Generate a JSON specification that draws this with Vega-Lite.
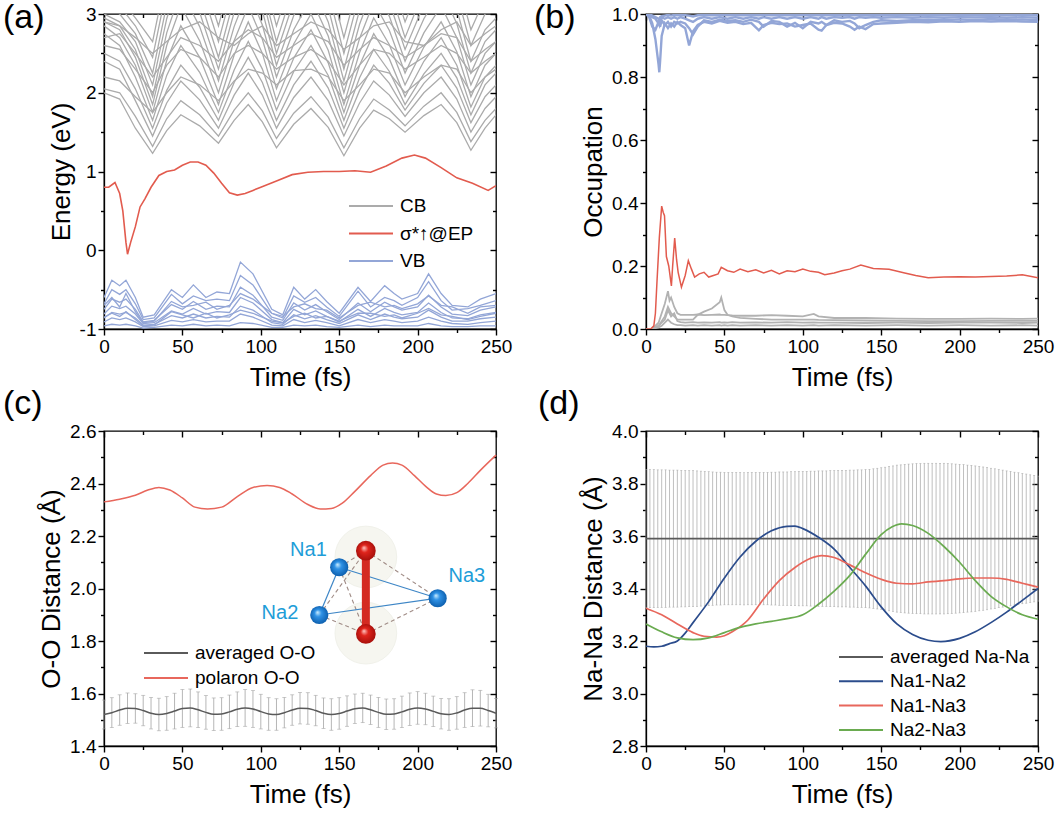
{
  "$schema": "https://vega.github.io/schema/vega-lite/v6.json",
  "description": "Energy, occupation and distance traces (a)-(d) over time.",
  "background": "white",
  "padding": {"left": 2, "top": 0, "right": 5, "bottom": 5},
  "columns": 2,
  "spacing": {"row": 102, "column": 150},
  "bounds": "flush",
  "resolve": {
    "scale": {"x": "independent", "y": "independent", "color": "independent"},
    "legend": {"color": "independent"},
    "axis": {"x": "independent", "y": "independent"}
  },
  "datasets": {
    "a_cb": [
      {"t":0,"c1":2.0,"c2":2.05,"c3":2.4,"c4":2.5,"c5":2.75,"c6":2.85,"c7":2.9,"c8":2.95,"c9":3.0,"c10":3.1,"c11":3.2,"c12":3.3,"c13":2.2,"c14":2.6,"c15":2.9,"c16":2.7},
      {"t":10,"c1":1.92,"c2":2.0,"c3":2.3,"c4":2.4,"c5":2.6,"c6":2.7,"c7":2.8,"c8":2.85,"c9":2.9,"c10":3.0,"c11":3.1,"c12":3.2,"c13":2.15,"c14":2.55,"c15":2.85,"c16":2.75},
      {"t":20,"c1":1.55,"c2":1.7,"c3":1.9,"c4":2.05,"c5":2.2,"c6":2.35,"c7":2.45,"c8":2.55,"c9":2.65,"c10":2.75,"c11":2.85,"c12":2.95,"c13":1.95,"c14":2.3,"c15":2.7,"c16":2.5},
      {"t":31,"c1":1.23,"c2":1.32,"c3":1.45,"c4":1.55,"c5":1.65,"c6":1.75,"c7":1.85,"c8":1.95,"c9":2.1,"c10":2.25,"c11":2.45,"c12":2.65,"c13":1.75,"c14":2.0,"c15":2.5,"c16":2.2},
      {"t":40,"c1":1.52,"c2":1.67,"c3":1.87,"c4":2.03,"c5":2.22,"c6":2.41,"c7":2.6,"c8":2.76,"c9":2.94,"c10":3.12,"c11":3.32,"c12":3.52,"c13":2.0,"c14":2.35,"c15":2.65,"c16":2.45},
      {"t":49,"c1":1.72,"c2":1.9,"c3":2.15,"c4":2.35,"c5":2.6,"c6":2.85,"c7":3.1,"c8":3.3,"c9":3.5,"c10":3.7,"c11":3.9,"c12":4.1,"c13":2.2,"c14":2.55,"c15":2.8,"c16":2.7},
      {"t":61,"c1":1.58,"c2":1.72,"c3":1.91,"c4":2.07,"c5":2.26,"c6":2.45,"c7":2.66,"c8":2.84,"c9":3.02,"c10":3.2,"c11":3.4,"c12":3.6,"c13":2.1,"c14":2.45,"c15":2.9,"c16":2.6},
      {"t":73,"c1":1.36,"c2":1.45,"c3":1.55,"c4":1.65,"c5":1.75,"c6":1.85,"c7":2.0,"c8":2.15,"c9":2.3,"c10":2.45,"c11":2.65,"c12":2.85,"c13":1.9,"c14":2.2,"c15":2.7,"c16":2.4},
      {"t":83,"c1":1.65,"c2":1.78,"c3":1.97,"c4":2.13,"c5":2.29,"c6":2.48,"c7":2.66,"c8":2.84,"c9":3.02,"c10":3.2,"c11":3.4,"c12":3.6,"c13":2.15,"c14":2.5,"c15":2.6,"c16":2.65},
      {"t":92,"c1":1.85,"c2":2.0,"c3":2.25,"c4":2.45,"c5":2.65,"c6":2.9,"c7":3.1,"c8":3.3,"c9":3.5,"c10":3.7,"c11":3.9,"c12":4.1,"c13":2.3,"c14":2.6,"c15":2.75,"c16":2.8},
      {"t":101,"c1":1.63,"c2":1.77,"c3":1.97,"c4":2.13,"c5":2.3,"c6":2.5,"c7":2.68,"c8":2.86,"c9":3.04,"c10":3.22,"c11":3.34,"c12":3.54,"c13":2.25,"c14":2.5,"c15":2.85,"c16":2.7},
      {"t":110,"c1":1.3,"c2":1.42,"c3":1.55,"c4":1.65,"c5":1.78,"c6":1.9,"c7":2.05,"c8":2.2,"c9":2.35,"c10":2.5,"c11":2.65,"c12":2.85,"c13":2.1,"c14":2.3,"c15":2.6,"c16":2.45},
      {"t":121,"c1":1.6,"c2":1.74,"c3":1.94,"c4":2.1,"c5":2.27,"c6":2.44,"c7":2.62,"c8":2.8,"c9":2.98,"c10":3.16,"c11":3.34,"c12":3.54,"c13":2.28,"c14":2.45,"c15":2.75,"c16":2.6},
      {"t":132,"c1":1.8,"c2":1.95,"c3":2.2,"c4":2.4,"c5":2.6,"c6":2.8,"c7":3.0,"c8":3.2,"c9":3.4,"c10":3.6,"c11":3.8,"c12":4.0,"c13":2.3,"c14":2.55,"c15":2.9,"c16":2.75},
      {"t":143,"c1":1.56,"c2":1.69,"c3":1.9,"c4":2.06,"c5":2.22,"c6":2.38,"c7":2.54,"c8":2.72,"c9":2.9,"c10":3.08,"c11":3.28,"c12":3.48,"c13":2.2,"c14":2.4,"c15":2.8,"c16":2.65},
      {"t":153,"c1":1.2,"c2":1.3,"c3":1.45,"c4":1.55,"c5":1.65,"c6":1.75,"c7":1.85,"c8":2.0,"c9":2.15,"c10":2.3,"c11":2.5,"c12":2.7,"c13":1.9,"c14":2.1,"c15":2.55,"c16":2.35},
      {"t":163,"c1":1.55,"c2":1.67,"c3":1.87,"c4":2.03,"c5":2.19,"c6":2.35,"c7":2.51,"c8":2.69,"c9":2.87,"c10":3.05,"c11":3.25,"c12":3.45,"c13":2.1,"c14":2.35,"c15":2.7,"c16":2.55},
      {"t":172,"c1":1.78,"c2":1.92,"c3":2.15,"c4":2.35,"c5":2.55,"c6":2.75,"c7":2.95,"c8":3.15,"c9":3.35,"c10":3.55,"c11":3.75,"c12":3.95,"c13":2.3,"c14":2.55,"c15":2.85,"c16":2.7},
      {"t":182,"c1":1.67,"c2":1.78,"c3":1.97,"c4":2.12,"c5":2.27,"c6":2.43,"c7":2.61,"c8":2.79,"c9":2.97,"c10":3.15,"c11":3.33,"c12":3.53,"c13":2.25,"c14":2.5,"c15":2.9,"c16":2.6},
      {"t":192,"c1":1.5,"c2":1.58,"c3":1.7,"c4":1.78,"c5":1.85,"c6":1.95,"c7":2.1,"c8":2.25,"c9":2.4,"c10":2.55,"c11":2.7,"c12":2.9,"c13":2.0,"c14":2.3,"c15":2.65,"c16":2.45},
      {"t":204,"c1":1.71,"c2":1.83,"c3":2.0,"c4":2.12,"c5":2.24,"c6":2.4,"c7":2.58,"c8":2.76,"c9":2.94,"c10":3.12,"c11":3.3,"c12":3.5,"c13":2.2,"c14":2.45,"c15":2.6,"c16":2.6},
      {"t":215,"c1":1.85,"c2":2.0,"c3":2.2,"c4":2.35,"c5":2.5,"c6":2.7,"c7":2.9,"c8":3.1,"c9":3.3,"c10":3.5,"c11":3.7,"c12":3.9,"c13":2.35,"c14":2.6,"c15":2.8,"c16":2.75},
      {"t":225,"c1":1.62,"c2":1.75,"c3":1.92,"c4":2.06,"c5":2.19,"c6":2.35,"c7":2.52,"c8":2.7,"c9":2.88,"c10":3.06,"c11":3.26,"c12":3.46,"c13":2.3,"c14":2.5,"c15":2.9,"c16":2.7},
      {"t":234,"c1":1.27,"c2":1.38,"c3":1.5,"c4":1.62,"c5":1.72,"c6":1.82,"c7":1.95,"c8":2.1,"c9":2.25,"c10":2.4,"c11":2.6,"c12":2.8,"c13":2.0,"c14":2.25,"c15":2.6,"c16":2.4},
      {"t":243,"c1":1.55,"c2":1.65,"c3":1.8,"c4":1.95,"c5":2.1,"c6":2.2,"c7":2.35,"c8":2.5,"c9":2.65,"c10":2.8,"c11":3.0,"c12":3.2,"c13":2.2,"c14":2.4,"c15":2.75,"c16":2.55},
      {"t":250,"c1":1.72,"c2":1.8,"c3":1.95,"c4":2.1,"c5":2.25,"c6":2.35,"c7":2.5,"c8":2.65,"c9":2.8,"c10":2.95,"c11":3.1,"c12":3.3,"c13":2.3,"c14":2.5,"c15":2.85,"c16":2.65}
    ],
    "a_vb": [
      {"t":0,"v1":-0.6,"v2":-0.68,"v3":-0.75,"v4":-0.81,"v5":-0.86,"v6":-0.91,"v7":-0.96,"v8":-0.7,"v9":-0.85},
      {"t":5,"v1":-0.38,"v2":-0.5,"v3":-0.62,"v4":-0.71,"v5":-0.79,"v6":-0.86,"v7":-0.94,"v8":-0.6,"v9":-0.8},
      {"t":10,"v1":-0.45,"v2":-0.56,"v3":-0.66,"v4":-0.74,"v5":-0.81,"v6":-0.88,"v7":-0.95,"v8":-0.72,"v9":-0.84},
      {"t":14,"v1":-0.38,"v2":-0.5,"v3":-0.62,"v4":-0.71,"v5":-0.79,"v6":-0.86,"v7":-0.94,"v8":-0.55,"v9":-0.78},
      {"t":20,"v1":-0.6,"v2":-0.68,"v3":-0.75,"v4":-0.81,"v5":-0.86,"v6":-0.91,"v7":-0.96,"v8":-0.78,"v9":-0.88},
      {"t":25,"v1":-0.85,"v2":-0.88,"v3":-0.91,"v4":-0.93,"v5":-0.95,"v6":-0.97,"v7":-0.99,"v8":-0.92,"v9":-0.96},
      {"t":32,"v1":-0.82,"v2":-0.86,"v3":-0.89,"v4":-0.92,"v5":-0.94,"v6":-0.96,"v7":-0.98,"v8":-0.9,"v9":-0.95},
      {"t":43,"v1":-0.5,"v2":-0.56,"v3":-0.69,"v4":-0.77,"v5":-0.83,"v6":-0.89,"v7":-0.95,"v8":-0.65,"v9":-0.78},
      {"t":50,"v1":-0.6,"v2":-0.68,"v3":-0.75,"v4":-0.81,"v5":-0.86,"v6":-0.91,"v7":-0.96,"v8":-0.72,"v9":-0.82},
      {"t":57,"v1":-0.44,"v2":-0.58,"v3":-0.65,"v4":-0.74,"v5":-0.81,"v6":-0.88,"v7":-0.94,"v8":-0.7,"v9":-0.86},
      {"t":65,"v1":-0.6,"v2":-0.64,"v3":-0.75,"v4":-0.81,"v5":-0.86,"v6":-0.91,"v7":-0.96,"v8":-0.66,"v9":-0.8},
      {"t":72,"v1":-0.53,"v2":-0.62,"v3":-0.71,"v4":-0.78,"v5":-0.84,"v6":-0.9,"v7":-0.95,"v8":-0.75,"v9":-0.86},
      {"t":80,"v1":-0.55,"v2":-0.64,"v3":-0.72,"v4":-0.79,"v5":-0.85,"v6":-0.9,"v7":-0.96,"v8":-0.7,"v9":-0.82},
      {"t":87,"v1":-0.15,"v2":-0.32,"v3":-0.47,"v4":-0.6,"v5":-0.71,"v6":-0.81,"v7":-0.92,"v8":-0.55,"v9":-0.76},
      {"t":95,"v1":-0.3,"v2":-0.44,"v3":-0.57,"v4":-0.67,"v5":-0.76,"v6":-0.85,"v7":-0.93,"v8":-0.62,"v9":-0.8},
      {"t":107,"v1":-0.75,"v2":-0.8,"v3":-0.85,"v4":-0.88,"v5":-0.92,"v6":-0.95,"v7":-0.98,"v8":-0.8,"v9":-0.9},
      {"t":114,"v1":-0.82,"v2":-0.86,"v3":-0.89,"v4":-0.92,"v5":-0.94,"v6":-0.96,"v7":-0.98,"v8":-0.84,"v9":-0.92},
      {"t":121,"v1":-0.47,"v2":-0.58,"v3":-0.67,"v4":-0.75,"v5":-0.82,"v6":-0.88,"v7":-0.95,"v8":-0.72,"v9":-0.84},
      {"t":128,"v1":-0.62,"v2":-0.66,"v3":-0.76,"v4":-0.82,"v5":-0.87,"v6":-0.92,"v7":-0.96,"v8":-0.68,"v9":-0.8},
      {"t":135,"v1":-0.5,"v2":-0.6,"v3":-0.69,"v4":-0.77,"v5":-0.83,"v6":-0.89,"v7":-0.95,"v8":-0.74,"v9":-0.86},
      {"t":142,"v1":-0.65,"v2":-0.72,"v3":-0.78,"v4":-0.84,"v5":-0.88,"v6":-0.92,"v7":-0.97,"v8":-0.76,"v9":-0.84},
      {"t":150,"v1":-0.8,"v2":-0.84,"v3":-0.88,"v4":-0.91,"v5":-0.93,"v6":-0.96,"v7":-0.98,"v8":-0.86,"v9":-0.9},
      {"t":162,"v1":-0.47,"v2":-0.52,"v3":-0.67,"v4":-0.75,"v5":-0.82,"v6":-0.88,"v7":-0.95,"v8":-0.7,"v9":-0.8},
      {"t":170,"v1":-0.65,"v2":-0.72,"v3":-0.78,"v4":-0.84,"v5":-0.88,"v6":-0.92,"v7":-0.97,"v8":-0.66,"v9":-0.8},
      {"t":179,"v1":-0.45,"v2":-0.6,"v3":-0.66,"v4":-0.74,"v5":-0.81,"v6":-0.88,"v7":-0.95,"v8":-0.72,"v9":-0.84},
      {"t":185,"v1":-0.55,"v2":-0.64,"v3":-0.72,"v4":-0.79,"v5":-0.85,"v6":-0.9,"v7":-0.96,"v8":-0.7,"v9":-0.82},
      {"t":190,"v1":-0.62,"v2":-0.7,"v3":-0.76,"v4":-0.82,"v5":-0.87,"v6":-0.92,"v7":-0.96,"v8":-0.74,"v9":-0.86},
      {"t":200,"v1":-0.55,"v2":-0.6,"v3":-0.72,"v4":-0.79,"v5":-0.85,"v6":-0.9,"v7":-0.96,"v8":-0.68,"v9":-0.8},
      {"t":207,"v1":-0.3,"v2":-0.4,"v3":-0.57,"v4":-0.67,"v5":-0.76,"v6":-0.85,"v7":-0.93,"v8":-0.58,"v9":-0.74},
      {"t":215,"v1":-0.55,"v2":-0.64,"v3":-0.72,"v4":-0.79,"v5":-0.85,"v6":-0.9,"v7":-0.96,"v8":-0.7,"v9":-0.82},
      {"t":222,"v1":-0.7,"v2":-0.76,"v3":-0.81,"v4":-0.86,"v5":-0.9,"v6":-0.93,"v7":-0.97,"v8":-0.72,"v9":-0.84},
      {"t":232,"v1":-0.72,"v2":-0.74,"v3":-0.83,"v4":-0.87,"v5":-0.9,"v6":-0.94,"v7":-0.97,"v8":-0.8,"v9":-0.88},
      {"t":240,"v1":-0.62,"v2":-0.7,"v3":-0.76,"v4":-0.82,"v5":-0.87,"v6":-0.92,"v7":-0.96,"v8":-0.72,"v9":-0.84},
      {"t":250,"v1":-0.55,"v2":-0.64,"v3":-0.72,"v4":-0.79,"v5":-0.85,"v6":-0.9,"v7":-0.96,"v8":-0.7,"v9":-0.8}
    ],
    "a_red": [
      {"t":0,"v":0.8},{"t":3,"v":0.8},{"t":7,"v":0.86},{"t":10,"v":0.72},{"t":12,"v":0.5},{"t":14,"v":0.1},
      {"t":15,"v":-0.05},{"t":17,"v":0.1},{"t":20,"v":0.3},{"t":23,"v":0.55},{"t":26,"v":0.65},{"t":30,"v":0.8},
      {"t":35,"v":0.95},{"t":40,"v":1.0},{"t":45,"v":1.02},{"t":50,"v":1.08},{"t":55,"v":1.12},{"t":60,"v":1.12},
      {"t":65,"v":1.08},{"t":70,"v":0.98},{"t":75,"v":0.85},{"t":80,"v":0.73},{"t":85,"v":0.7},{"t":90,"v":0.72},
      {"t":95,"v":0.76},{"t":100,"v":0.8},{"t":110,"v":0.88},{"t":120,"v":0.96},{"t":130,"v":0.99},{"t":140,"v":1.0},
      {"t":150,"v":1.0},{"t":160,"v":1.01},{"t":170,"v":0.99},{"t":180,"v":1.07},{"t":190,"v":1.17},{"t":198,"v":1.21},
      {"t":205,"v":1.17},{"t":215,"v":1.05},{"t":225,"v":0.92},{"t":235,"v":0.85},{"t":245,"v":0.76},{"t":250,"v":0.82}
    ],
    "b_blue": [
      {"t":0,"b1":1.0,"b2":1.0,"b3":1.0,"b4":1.0},
      {"t":2,"b1":0.995,"b2":0.99,"b3":0.998,"b4":1.0},
      {"t":4,"b1":0.97,"b2":0.96,"b3":0.99,"b4":0.995},
      {"t":6,"b1":0.92,"b2":0.95,"b3":0.985,"b4":0.99},
      {"t":8,"b1":0.84,"b2":0.975,"b3":0.97,"b4":0.985},
      {"t":8.5,"b1":0.815,"b2":0.97,"b3":0.965,"b4":0.985},
      {"t":9,"b1":0.85,"b2":0.96,"b3":0.98,"b4":0.99},
      {"t":10,"b1":0.93,"b2":0.98,"b3":0.99,"b4":0.993},
      {"t":12,"b1":0.97,"b2":0.965,"b3":0.985,"b4":0.995},
      {"t":14,"b1":0.955,"b2":0.975,"b3":0.99,"b4":0.997},
      {"t":16,"b1":0.97,"b2":0.96,"b3":0.985,"b4":0.995},
      {"t":18,"b1":0.96,"b2":0.975,"b3":0.99,"b4":0.997},
      {"t":20,"b1":0.975,"b2":0.97,"b3":0.985,"b4":0.996},
      {"t":22,"b1":0.965,"b2":0.975,"b3":0.99,"b4":0.997},
      {"t":25,"b1":0.955,"b2":0.97,"b3":0.985,"b4":0.996},
      {"t":27.5,"b1":0.9,"b2":0.955,"b3":0.98,"b4":0.995},
      {"t":30,"b1":0.945,"b2":0.935,"b3":0.975,"b4":0.992},
      {"t":33,"b1":0.965,"b2":0.96,"b3":0.985,"b4":0.996},
      {"t":37,"b1":0.975,"b2":0.98,"b3":0.99,"b4":0.997},
      {"t":42,"b1":0.97,"b2":0.975,"b3":0.985,"b4":0.996},
      {"t":47,"b1":0.978,"b2":0.982,"b3":0.99,"b4":0.997},
      {"t":52,"b1":0.972,"b2":0.978,"b3":0.985,"b4":0.996},
      {"t":57,"b1":0.975,"b2":0.98,"b3":0.99,"b4":0.997},
      {"t":62,"b1":0.968,"b2":0.975,"b3":0.985,"b4":0.996},
      {"t":67,"b1":0.972,"b2":0.982,"b3":0.99,"b4":0.997},
      {"t":72,"b1":0.948,"b2":0.975,"b3":0.985,"b4":0.996},
      {"t":75,"b1":0.965,"b2":0.96,"b3":0.99,"b4":0.997},
      {"t":80,"b1":0.972,"b2":0.978,"b3":0.985,"b4":0.996},
      {"t":85,"b1":0.968,"b2":0.975,"b3":0.99,"b4":0.997},
      {"t":90,"b1":0.97,"b2":0.96,"b3":0.985,"b4":0.996},
      {"t":95,"b1":0.96,"b2":0.972,"b3":0.99,"b4":0.997},
      {"t":100,"b1":0.965,"b2":0.955,"b3":0.985,"b4":0.996},
      {"t":105,"b1":0.97,"b2":0.975,"b3":0.99,"b4":0.997},
      {"t":110,"b1":0.95,"b2":0.97,"b3":0.985,"b4":0.996},
      {"t":112,"b1":0.947,"b2":0.975,"b3":0.99,"b4":0.997},
      {"t":115,"b1":0.965,"b2":0.965,"b3":0.985,"b4":0.996},
      {"t":120,"b1":0.972,"b2":0.98,"b3":0.99,"b4":0.997},
      {"t":125,"b1":0.97,"b2":0.975,"b3":0.988,"b4":0.996},
      {"t":130,"b1":0.96,"b2":0.978,"b3":0.99,"b4":0.997},
      {"t":133,"b1":0.95,"b2":0.97,"b3":0.985,"b4":0.996},
      {"t":136,"b1":0.96,"b2":0.955,"b3":0.99,"b4":0.997},
      {"t":140,"b1":0.952,"b2":0.965,"b3":0.988,"b4":0.996},
      {"t":145,"b1":0.968,"b2":0.975,"b3":0.99,"b4":0.997},
      {"t":150,"b1":0.97,"b2":0.98,"b3":0.988,"b4":0.996},
      {"t":160,"b1":0.972,"b2":0.978,"b3":0.99,"b4":0.997},
      {"t":170,"b1":0.975,"b2":0.98,"b3":0.988,"b4":0.996},
      {"t":180,"b1":0.974,"b2":0.982,"b3":0.99,"b4":0.997},
      {"t":190,"b1":0.977,"b2":0.98,"b3":0.988,"b4":0.996},
      {"t":200,"b1":0.975,"b2":0.983,"b3":0.99,"b4":0.997},
      {"t":210,"b1":0.978,"b2":0.98,"b3":0.989,"b4":0.996},
      {"t":220,"b1":0.976,"b2":0.984,"b3":0.99,"b4":0.997},
      {"t":230,"b1":0.978,"b2":0.981,"b3":0.988,"b4":0.996},
      {"t":240,"b1":0.976,"b2":0.983,"b3":0.99,"b4":0.997},
      {"t":250,"b1":0.975,"b2":0.98,"b3":0.988,"b4":0.996}
    ],
    "b_gray": [
      {"t":0,"g1":0,"g2":0,"g3":0,"g4":0},
      {"t":4,"g1":0,"g2":0,"g3":0,"g4":0},
      {"t":8,"g1":0.02,"g2":0.01,"g3":0.01,"g4":0.005},
      {"t":10,"g1":0.05,"g2":0.025,"g3":0.02,"g4":0.01},
      {"t":12,"g1":0.08,"g2":0.04,"g3":0.03,"g4":0.02},
      {"t":14,"g1":0.12,"g2":0.07,"g3":0.06,"g4":0.03},
      {"t":15,"g1":0.09,"g2":0.06,"g3":0.05,"g4":0.025},
      {"t":16,"g1":0.1,"g2":0.05,"g3":0.04,"g4":0.02},
      {"t":18,"g1":0.07,"g2":0.04,"g3":0.05,"g4":0.015},
      {"t":20,"g1":0.05,"g2":0.03,"g3":0.025,"g4":0.012},
      {"t":22,"g1":0.045,"g2":0.03,"g3":0.022,"g4":0.012},
      {"t":25,"g1":0.045,"g2":0.03,"g3":0.02,"g4":0.011},
      {"t":30,"g1":0.045,"g2":0.03,"g3":0.022,"g4":0.012},
      {"t":33,"g1":0.046,"g2":0.045,"g3":0.02,"g4":0.011},
      {"t":37,"g1":0.044,"g2":0.055,"g3":0.021,"g4":0.012},
      {"t":42,"g1":0.045,"g2":0.065,"g3":0.02,"g4":0.011},
      {"t":47,"g1":0.046,"g2":0.085,"g3":0.022,"g4":0.012},
      {"t":48,"g1":0.045,"g2":0.1,"g3":0.02,"g4":0.011},
      {"t":50,"g1":0.045,"g2":0.06,"g3":0.021,"g4":0.012},
      {"t":52,"g1":0.044,"g2":0.045,"g3":0.02,"g4":0.011},
      {"t":55,"g1":0.043,"g2":0.04,"g3":0.022,"g4":0.012},
      {"t":60,"g1":0.042,"g2":0.035,"g3":0.02,"g4":0.011},
      {"t":70,"g1":0.042,"g2":0.032,"g3":0.021,"g4":0.012},
      {"t":80,"g1":0.044,"g2":0.03,"g3":0.02,"g4":0.011},
      {"t":90,"g1":0.042,"g2":0.03,"g3":0.022,"g4":0.012},
      {"t":100,"g1":0.04,"g2":0.03,"g3":0.02,"g4":0.011},
      {"t":107,"g1":0.048,"g2":0.03,"g3":0.021,"g4":0.012},
      {"t":110,"g1":0.04,"g2":0.029,"g3":0.02,"g4":0.011},
      {"t":120,"g1":0.035,"g2":0.028,"g3":0.02,"g4":0.012},
      {"t":140,"g1":0.035,"g2":0.027,"g3":0.019,"g4":0.011},
      {"t":160,"g1":0.033,"g2":0.026,"g3":0.02,"g4":0.012},
      {"t":180,"g1":0.032,"g2":0.025,"g3":0.019,"g4":0.011},
      {"t":200,"g1":0.032,"g2":0.025,"g3":0.02,"g4":0.012},
      {"t":220,"g1":0.033,"g2":0.026,"g3":0.02,"g4":0.011},
      {"t":240,"g1":0.032,"g2":0.026,"g3":0.019,"g4":0.012},
      {"t":250,"g1":0.033,"g2":0.026,"g3":0.02,"g4":0.011}
    ],
    "b_red": [
      {"t":0,"v":0},{"t":3,"v":0},{"t":5,"v":0.01},{"t":6,"v":0.05},{"t":7,"v":0.15},{"t":8.5,"v":0.29},
      {"t":10,"v":0.39},{"t":11,"v":0.37},{"t":11.8,"v":0.36},{"t":13,"v":0.23},{"t":14.5,"v":0.2},{"t":16.2,"v":0.137},
      {"t":17,"v":0.2},{"t":18.3,"v":0.289},{"t":19.5,"v":0.22},{"t":20.5,"v":0.18},{"t":22.6,"v":0.133},{"t":25,"v":0.17},
      {"t":27,"v":0.217},{"t":29,"v":0.19},{"t":31,"v":0.165},{"t":34,"v":0.175},{"t":37,"v":0.18},{"t":40,"v":0.165},
      {"t":43,"v":0.17},{"t":46,"v":0.175},{"t":48,"v":0.196},{"t":52,"v":0.185},{"t":56,"v":0.18},{"t":60,"v":0.19},
      {"t":65,"v":0.182},{"t":70,"v":0.188},{"t":75,"v":0.178},{"t":80,"v":0.186},{"t":85,"v":0.175},{"t":90,"v":0.185},
      {"t":95,"v":0.182},{"t":100,"v":0.19},{"t":105,"v":0.183},{"t":110,"v":0.18},{"t":114,"v":0.172},{"t":120,"v":0.178},
      {"t":125,"v":0.185},{"t":130,"v":0.19},{"t":137,"v":0.203},{"t":145,"v":0.192},{"t":155,"v":0.19},{"t":165,"v":0.178},
      {"t":172,"v":0.17},{"t":180,"v":0.163},{"t":190,"v":0.165},{"t":200,"v":0.166},{"t":210,"v":0.165},{"t":220,"v":0.167},
      {"t":230,"v":0.168},{"t":240,"v":0.172},{"t":250,"v":0.163}
    ],
    "c_avg": [
      {"t":0,"m":1.52,"e":0.055},{"t":5,"m":1.527,"e":0.057},{"t":10,"m":1.537,"e":0.058},{"t":15,"m":1.544,"e":0.058},
      {"t":20,"m":1.543,"e":0.056},{"t":25,"m":1.535,"e":0.058},{"t":30,"m":1.525,"e":0.06},{"t":35,"m":1.52,"e":0.062},
      {"t":40,"m":1.524,"e":0.064},{"t":45,"m":1.533,"e":0.068},{"t":50,"m":1.543,"e":0.072},{"t":55,"m":1.545,"e":0.072},
      {"t":60,"m":1.538,"e":0.068},{"t":65,"m":1.528,"e":0.064},{"t":70,"m":1.521,"e":0.062},{"t":75,"m":1.522,"e":0.062},
      {"t":80,"m":1.53,"e":0.064},{"t":85,"m":1.54,"e":0.066},{"t":90,"m":1.545,"e":0.07},{"t":95,"m":1.541,"e":0.07},
      {"t":100,"m":1.531,"e":0.066},{"t":105,"m":1.522,"e":0.062},{"t":110,"m":1.52,"e":0.06},{"t":115,"m":1.527,"e":0.058},
      {"t":120,"m":1.537,"e":0.058},{"t":125,"m":1.544,"e":0.06},{"t":130,"m":1.543,"e":0.06},{"t":135,"m":1.535,"e":0.058},
      {"t":140,"m":1.525,"e":0.058},{"t":145,"m":1.52,"e":0.06},{"t":150,"m":1.524,"e":0.06},{"t":155,"m":1.533,"e":0.058},
      {"t":160,"m":1.542,"e":0.056},{"t":165,"m":1.545,"e":0.056},{"t":170,"m":1.538,"e":0.056},{"t":175,"m":1.528,"e":0.057},
      {"t":180,"m":1.521,"e":0.058},{"t":185,"m":1.522,"e":0.058},{"t":190,"m":1.53,"e":0.06},{"t":195,"m":1.54,"e":0.062},
      {"t":200,"m":1.545,"e":0.062},{"t":205,"m":1.541,"e":0.06},{"t":210,"m":1.532,"e":0.058},{"t":215,"m":1.523,"e":0.058},
      {"t":220,"m":1.52,"e":0.06},{"t":225,"m":1.526,"e":0.062},{"t":230,"m":1.537,"e":0.066},{"t":235,"m":1.544,"e":0.07},
      {"t":240,"m":1.544,"e":0.068},{"t":245,"m":1.535,"e":0.062},{"t":250,"m":1.525,"e":0.056}
    ],
    "c_pol": [
      {"t":0,"v":2.33},{"t":10,"v":2.34},{"t":20,"v":2.355},{"t":28,"v":2.375},{"t":35,"v":2.385},{"t":42,"v":2.375},
      {"t":50,"v":2.345},{"t":58,"v":2.31},{"t":66,"v":2.303},{"t":75,"v":2.31},{"t":85,"v":2.35},{"t":95,"v":2.385},
      {"t":104,"v":2.392},{"t":112,"v":2.385},{"t":120,"v":2.36},{"t":130,"v":2.32},{"t":138,"v":2.303},{"t":145,"v":2.305},
      {"t":152,"v":2.325},{"t":160,"v":2.37},{"t":170,"v":2.43},{"t":178,"v":2.47},{"t":184,"v":2.478},{"t":190,"v":2.47},
      {"t":198,"v":2.43},{"t":205,"v":2.39},{"t":212,"v":2.36},{"t":218,"v":2.354},{"t":225,"v":2.365},{"t":232,"v":2.4},
      {"t":240,"v":2.45},{"t":250,"v":2.508}
    ],
    "c_blob": [{"t":167,"v":2.12},{"t":167,"v":1.83}],
    "c_atoms": [
      {"t":167,"v":2.144,"k":"O"},{"t":167,"v":1.827,"k":"O"},
      {"t":150,"v":2.081,"k":"Na"},{"t":137.3,"v":1.899,"k":"Na"},{"t":212.8,"v":1.963,"k":"Na"}
    ],
    "c_tri": [
      {"b":"12","t":137.3,"v":1.899},{"b":"12","t":150,"v":2.081},
      {"b":"13","t":150,"v":2.081},{"b":"13","t":212.8,"v":1.963},
      {"b":"23","t":137.3,"v":1.899},{"b":"23","t":212.8,"v":1.963}
    ],
    "c_dash": [
      {"b":"1a","t":150,"v":2.081},{"b":"1a","t":167,"v":2.144},
      {"b":"1b","t":150,"v":2.081},{"b":"1b","t":167,"v":1.827},
      {"b":"2a","t":137.3,"v":1.899},{"b":"2a","t":167,"v":2.144},
      {"b":"2b","t":137.3,"v":1.899},{"b":"2b","t":167,"v":1.827},
      {"b":"3a","t":167,"v":2.144},{"b":"3a","t":212.8,"v":1.963},
      {"b":"3b","t":167,"v":1.827},{"b":"3b","t":212.8,"v":1.963}
    ],
    "c_oo": [{"t":167,"v":2.144},{"t":167,"v":1.827}],
    "c_labels": [
      {"t":130.4,"v":2.147,"lab":"Na1"},{"t":112.2,"v":1.907,"lab":"Na2"},{"t":231.4,"v":2.049,"lab":"Na3"}
    ],
    "d_avg": [
      {"t":0,"m":3.59,"e":0.263},{"t":2.5,"m":3.59,"e":0.263},{"t":5,"m":3.59,"e":0.263},{"t":7.5,"m":3.59,"e":0.262},
      {"t":10,"m":3.59,"e":0.262},{"t":12.5,"m":3.59,"e":0.262},{"t":15,"m":3.59,"e":0.261},{"t":17.5,"m":3.59,"e":0.261},
      {"t":20,"m":3.59,"e":0.261},{"t":22.5,"m":3.59,"e":0.26},{"t":25,"m":3.59,"e":0.26},{"t":27.5,"m":3.59,"e":0.259},
      {"t":30,"m":3.59,"e":0.259},{"t":32.5,"m":3.59,"e":0.258},{"t":35,"m":3.59,"e":0.257},{"t":37.5,"m":3.59,"e":0.256},
      {"t":40,"m":3.59,"e":0.255},{"t":42.5,"m":3.59,"e":0.254},{"t":45,"m":3.59,"e":0.253},{"t":47.5,"m":3.59,"e":0.253},
      {"t":50,"m":3.59,"e":0.252},{"t":52.5,"m":3.59,"e":0.252},{"t":55,"m":3.59,"e":0.252},{"t":57.5,"m":3.59,"e":0.252},
      {"t":60,"m":3.59,"e":0.252},{"t":62.5,"m":3.59,"e":0.252},{"t":65,"m":3.59,"e":0.252},{"t":67.5,"m":3.59,"e":0.252},
      {"t":70,"m":3.59,"e":0.252},{"t":72.5,"m":3.59,"e":0.252},{"t":75,"m":3.59,"e":0.252},{"t":77.5,"m":3.59,"e":0.252},
      {"t":80,"m":3.59,"e":0.253},{"t":82.5,"m":3.59,"e":0.253},{"t":85,"m":3.59,"e":0.254},{"t":87.5,"m":3.59,"e":0.254},
      {"t":90,"m":3.59,"e":0.254},{"t":92.5,"m":3.59,"e":0.255},{"t":95,"m":3.59,"e":0.255},{"t":97.5,"m":3.59,"e":0.256},
      {"t":100,"m":3.59,"e":0.256},{"t":102.5,"m":3.59,"e":0.256},{"t":105,"m":3.59,"e":0.257},{"t":107.5,"m":3.59,"e":0.257},
      {"t":110,"m":3.59,"e":0.258},{"t":112.5,"m":3.59,"e":0.258},{"t":115,"m":3.59,"e":0.258},{"t":117.5,"m":3.59,"e":0.259},
      {"t":120,"m":3.59,"e":0.259},{"t":122.5,"m":3.59,"e":0.26},{"t":125,"m":3.59,"e":0.26},{"t":127.5,"m":3.59,"e":0.26},
      {"t":130,"m":3.59,"e":0.261},{"t":132.5,"m":3.59,"e":0.261},{"t":135,"m":3.59,"e":0.262},{"t":137.5,"m":3.59,"e":0.262},
      {"t":140,"m":3.59,"e":0.263},{"t":142.5,"m":3.59,"e":0.264},{"t":145,"m":3.59,"e":0.266},{"t":147.5,"m":3.59,"e":0.268},
      {"t":150,"m":3.59,"e":0.27},{"t":152.5,"m":3.59,"e":0.272},{"t":155,"m":3.59,"e":0.275},{"t":157.5,"m":3.59,"e":0.277},
      {"t":160,"m":3.59,"e":0.28},{"t":162.5,"m":3.59,"e":0.281},{"t":165,"m":3.59,"e":0.283},{"t":167.5,"m":3.59,"e":0.284},
      {"t":170,"m":3.59,"e":0.285},{"t":172.5,"m":3.59,"e":0.286},{"t":175,"m":3.59,"e":0.286},{"t":177.5,"m":3.59,"e":0.287},
      {"t":180,"m":3.59,"e":0.287},{"t":182.5,"m":3.59,"e":0.287},{"t":185,"m":3.59,"e":0.287},{"t":187.5,"m":3.59,"e":0.287},
      {"t":190,"m":3.59,"e":0.287},{"t":192.5,"m":3.59,"e":0.286},{"t":195,"m":3.59,"e":0.285},{"t":197.5,"m":3.59,"e":0.284},
      {"t":200,"m":3.59,"e":0.283},{"t":202.5,"m":3.59,"e":0.282},{"t":205,"m":3.59,"e":0.28},{"t":207.5,"m":3.59,"e":0.279},
      {"t":210,"m":3.59,"e":0.277},{"t":212.5,"m":3.59,"e":0.275},{"t":215,"m":3.59,"e":0.273},{"t":217.5,"m":3.59,"e":0.271},
      {"t":220,"m":3.59,"e":0.268},{"t":222.5,"m":3.59,"e":0.266},{"t":225,"m":3.59,"e":0.263},{"t":227.5,"m":3.59,"e":0.261},
      {"t":230,"m":3.59,"e":0.258},{"t":232.5,"m":3.59,"e":0.256},{"t":235,"m":3.59,"e":0.253},{"t":237.5,"m":3.59,"e":0.251},
      {"t":240,"m":3.59,"e":0.248},{"t":242.5,"m":3.59,"e":0.246},{"t":245,"m":3.59,"e":0.243},{"t":247.5,"m":3.59,"e":0.241},
      {"t":250,"m":3.59,"e":0.238}
    ],
    "d_lines": [
      {"s":"Na1-Na2","t":0,"v":3.18},{"s":"Na1-Na2","t":5,"v":3.178},{"s":"Na1-Na2","t":10,"v":3.18},{"s":"Na1-Na2","t":15,"v":3.19},
      {"s":"Na1-Na2","t":20,"v":3.2},{"s":"Na1-Na2","t":25,"v":3.23},{"s":"Na1-Na2","t":30,"v":3.27},{"s":"Na1-Na2","t":40,"v":3.35},
      {"s":"Na1-Na2","t":50,"v":3.44},{"s":"Na1-Na2","t":60,"v":3.52},{"s":"Na1-Na2","t":70,"v":3.58},{"s":"Na1-Na2","t":80,"v":3.62},
      {"s":"Na1-Na2","t":90,"v":3.637},{"s":"Na1-Na2","t":95,"v":3.638},{"s":"Na1-Na2","t":100,"v":3.628},{"s":"Na1-Na2","t":110,"v":3.595},
      {"s":"Na1-Na2","t":120,"v":3.55},{"s":"Na1-Na2","t":130,"v":3.48},{"s":"Na1-Na2","t":140,"v":3.41},{"s":"Na1-Na2","t":150,"v":3.33},
      {"s":"Na1-Na2","t":160,"v":3.265},{"s":"Na1-Na2","t":170,"v":3.225},{"s":"Na1-Na2","t":180,"v":3.203},{"s":"Na1-Na2","t":188,"v":3.198},
      {"s":"Na1-Na2","t":200,"v":3.21},{"s":"Na1-Na2","t":210,"v":3.235},{"s":"Na1-Na2","t":220,"v":3.27},{"s":"Na1-Na2","t":230,"v":3.31},
      {"s":"Na1-Na2","t":240,"v":3.355},{"s":"Na1-Na2","t":250,"v":3.4},
      {"s":"Na1-Na3","t":0,"v":3.325},{"s":"Na1-Na3","t":10,"v":3.3},{"s":"Na1-Na3","t":20,"v":3.265},{"s":"Na1-Na3","t":30,"v":3.232},
      {"s":"Na1-Na3","t":37,"v":3.218},{"s":"Na1-Na3","t":45,"v":3.215},{"s":"Na1-Na3","t":50,"v":3.22},{"s":"Na1-Na3","t":55,"v":3.235},
      {"s":"Na1-Na3","t":65,"v":3.28},{"s":"Na1-Na3","t":75,"v":3.36},{"s":"Na1-Na3","t":85,"v":3.43},{"s":"Na1-Na3","t":95,"v":3.48},
      {"s":"Na1-Na3","t":105,"v":3.515},{"s":"Na1-Na3","t":112,"v":3.525},{"s":"Na1-Na3","t":120,"v":3.518},{"s":"Na1-Na3","t":130,"v":3.49},
      {"s":"Na1-Na3","t":140,"v":3.46},{"s":"Na1-Na3","t":150,"v":3.435},{"s":"Na1-Na3","t":160,"v":3.42},{"s":"Na1-Na3","t":170,"v":3.418},
      {"s":"Na1-Na3","t":180,"v":3.425},{"s":"Na1-Na3","t":190,"v":3.43},{"s":"Na1-Na3","t":200,"v":3.437},{"s":"Na1-Na3","t":210,"v":3.44},
      {"s":"Na1-Na3","t":220,"v":3.44},{"s":"Na1-Na3","t":230,"v":3.435},{"s":"Na1-Na3","t":240,"v":3.42},{"s":"Na1-Na3","t":250,"v":3.405},
      {"s":"Na2-Na3","t":0,"v":3.265},{"s":"Na2-Na3","t":10,"v":3.235},{"s":"Na2-Na3","t":20,"v":3.212},{"s":"Na2-Na3","t":30,"v":3.205},
      {"s":"Na2-Na3","t":40,"v":3.212},{"s":"Na2-Na3","t":50,"v":3.232},{"s":"Na2-Na3","t":60,"v":3.252},{"s":"Na2-Na3","t":70,"v":3.265},
      {"s":"Na2-Na3","t":80,"v":3.275},{"s":"Na2-Na3","t":90,"v":3.285},{"s":"Na2-Na3","t":100,"v":3.3},{"s":"Na2-Na3","t":110,"v":3.34},
      {"s":"Na2-Na3","t":120,"v":3.39},{"s":"Na2-Na3","t":130,"v":3.45},{"s":"Na2-Na3","t":140,"v":3.53},{"s":"Na2-Na3","t":150,"v":3.605},
      {"s":"Na2-Na3","t":157,"v":3.635},{"s":"Na2-Na3","t":163,"v":3.646},{"s":"Na2-Na3","t":170,"v":3.64},{"s":"Na2-Na3","t":180,"v":3.61},
      {"s":"Na2-Na3","t":190,"v":3.56},{"s":"Na2-Na3","t":200,"v":3.5},{"s":"Na2-Na3","t":210,"v":3.43},{"s":"Na2-Na3","t":220,"v":3.37},
      {"s":"Na2-Na3","t":230,"v":3.33},{"s":"Na2-Na3","t":240,"v":3.3},{"s":"Na2-Na3","t":250,"v":3.283}
    ]
  },
  "concat": [
    {
      "width": 392,
      "height": 315,
      "title": {"text": "(a)", "dx": -101, "dy": 34},
      "resolve": {"axis": {"x": "independent", "y": "independent"}},
      "layer": [
        {
          "mark": {"type": "rect", "color": "#FCD9A2"},
          "encoding": {
            "x": {"datum": 0, "type": "quantitative", "scale": {"domain": [0, 250]},
              "axis": {"orient": "top", "title": null, "labels": false, "domain": false, "values": [25,75,125,175,225], "tickSize": 3.5, "offset": -3.5}},
            "x2": {"datum": 20},
            "y": {"datum": -1, "type": "quantitative", "scale": {"domain": [-1, 3]},
              "axis": {"orient": "right", "title": null, "labels": false, "domain": false, "values": [-0.5,0.5,1.5,2.5], "tickSize": 3.5, "offset": -3.5}},
            "y2": {"datum": 3}
          }
        },
        {
          "data": {"name": "a_cb"},
          "transform": [{"fold": ["c1","c2","c3","c4","c5","c6","c7","c8","c9","c10","c11","c12","c13","c14","c15","c16"], "as": ["s", "v"]}],
          "mark": {"type": "line", "clip": true, "strokeWidth": 1.3},
          "encoding": {
            "x": {"field": "t", "type": "quantitative", "scale": {"domain": [0, 250]},
              "axis": {"orient": "bottom", "title": "Time (fs)", "values": [0,50,100,150,200,250], "tickSize": 6}},
            "y": {"field": "v", "type": "quantitative", "scale": {"domain": [-1, 3]},
              "axis": {"orient": "left", "title": "Energy (eV)", "values": [-1,0,1,2,3], "labelExpr": "'' + datum.value", "tickSize": 6}},
            "detail": {"field": "s"},
            "color": {"datum": "CB", "type": "nominal",
              "scale": {"domain": ["CB", "σ*↑@EP", "VB"], "range": ["#ABABAB", "#E25B4E", "#93A6D7"]},
              "legend": {"orient": "none", "legendX": 256, "legendY": 181, "title": null, "symbolType": "M-2.2,0H2.2",
                "symbolSize": 400, "symbolStrokeWidth": 2, "labelOffset": 18, "rowPadding": 6.5, "padding": 0}}
          }
        },
        {
          "data": {"name": "a_vb"},
          "transform": [{"fold": ["v1","v2","v3","v4","v5","v6","v7","v8","v9"], "as": ["s", "v"]}],
          "mark": {"type": "line", "clip": true, "strokeWidth": 1.3},
          "encoding": {
            "x": {"field": "t", "type": "quantitative", "scale": {"domain": [0, 250]},
              "axis": {"orient": "bottom", "title": null, "labels": false, "domain": false, "values": [25,75,125,175,225], "tickSize": 3.5}},
            "y": {"field": "v", "type": "quantitative", "scale": {"domain": [-1, 3]},
              "axis": {"orient": "left", "title": null, "labels": false, "domain": false, "values": [-0.5,0.5,1.5,2.5], "tickSize": 3.5}},
            "detail": {"field": "s"},
            "color": {"datum": "VB", "type": "nominal"}
          }
        },
        {
          "data": {"name": "a_red"},
          "mark": {"type": "line", "clip": true, "strokeWidth": 1.6},
          "encoding": {
            "x": {"field": "t", "type": "quantitative", "scale": {"domain": [0, 250]},
              "axis": {"orient": "top", "title": null, "labels": false, "domain": false, "values": [0,50,100,150,200,250], "tickSize": 6, "offset": -6}},
            "y": {"field": "v", "type": "quantitative", "scale": {"domain": [-1, 3]},
              "axis": {"orient": "right", "title": null, "labels": false, "domain": false, "values": [-1,0,1,2,3], "tickSize": 6, "offset": -6}},
            "color": {"datum": "σ*↑@EP", "type": "nominal"}
          }
        }
      ]
    },
    {
      "width": 392,
      "height": 315,
      "title": {"text": "(b)", "dx": -112, "dy": 34},
      "resolve": {"axis": {"x": "independent", "y": "independent"}},
      "layer": [
        {
          "mark": {"type": "rect", "color": "#FCD9A2"},
          "encoding": {
            "x": {"datum": 0, "type": "quantitative", "scale": {"domain": [0, 250]},
              "axis": {"orient": "top", "title": null, "labels": false, "domain": false, "values": [25,75,125,175,225], "tickSize": 3.5, "offset": -3.5}},
            "x2": {"datum": 20},
            "y": {"datum": 0, "type": "quantitative", "scale": {"domain": [0, 1]},
              "axis": {"orient": "right", "title": null, "labels": false, "domain": false, "values": [0.1,0.3,0.5,0.7,0.9], "tickSize": 3.5, "offset": -3.5}},
            "y2": {"datum": 1}
          }
        },
        {
          "data": {"name": "b_gray"},
          "transform": [{"fold": ["g1","g2","g3","g4"], "as": ["s", "v"]}],
          "mark": {"type": "line", "clip": true, "strokeWidth": 1.8, "color": "#B2B2B2"},
          "encoding": {
            "x": {"field": "t", "type": "quantitative", "scale": {"domain": [0, 250]},
              "axis": {"orient": "bottom", "title": "Time (fs)", "values": [0,50,100,150,200,250], "tickSize": 6}},
            "y": {"field": "v", "type": "quantitative", "scale": {"domain": [0, 1]},
              "axis": {"orient": "left", "title": "Occupation", "values": [0,0.2,0.4,0.6,0.8,1], "format": ".1f", "tickSize": 6}},
            "detail": {"field": "s"}
          }
        },
        {
          "data": {"name": "b_blue"},
          "transform": [{"fold": ["b1","b2","b3","b4"], "as": ["s", "v"]}],
          "mark": {"type": "line", "clip": true, "strokeWidth": 2.4, "color": "#93A6D7"},
          "encoding": {
            "x": {"field": "t", "type": "quantitative", "scale": {"domain": [0, 250]},
              "axis": {"orient": "bottom", "title": null, "labels": false, "domain": false, "values": [25,75,125,175,225], "tickSize": 3.5}},
            "y": {"field": "v", "type": "quantitative", "scale": {"domain": [0, 1]},
              "axis": {"orient": "left", "title": null, "labels": false, "domain": false, "values": [0.1,0.3,0.5,0.7,0.9], "tickSize": 3.5}},
            "detail": {"field": "s"}
          }
        },
        {
          "data": {"name": "b_red"},
          "mark": {"type": "line", "clip": true, "strokeWidth": 1.5, "color": "#E25B4E"},
          "encoding": {
            "x": {"field": "t", "type": "quantitative", "scale": {"domain": [0, 250]},
              "axis": {"orient": "top", "title": null, "labels": false, "domain": false, "values": [0,50,100,150,200,250], "tickSize": 6, "offset": -6}},
            "y": {"field": "v", "type": "quantitative", "scale": {"domain": [0, 1]},
              "axis": {"orient": "right", "title": null, "labels": false, "domain": false, "values": [0,0.2,0.4,0.6,0.8,1], "tickSize": 6, "offset": -6}}
          }
        }
      ]
    },
    {
      "width": 392,
      "height": 315,
      "title": {"text": "(c)", "dx": -101, "dy": 3},
      "resolve": {"axis": {"x": "independent", "y": "independent"}},
      "layer": [
        {
          "mark": {"type": "rect", "color": "#FCD9A2"},
          "encoding": {
            "x": {"datum": 0, "type": "quantitative", "scale": {"domain": [0, 250]},
              "axis": {"orient": "top", "title": null, "labels": false, "domain": false, "values": [25,75,125,175,225], "tickSize": 3.5, "offset": -3.5}},
            "x2": {"datum": 20},
            "y": {"datum": 1.4, "type": "quantitative", "scale": {"domain": [1.4, 2.6]},
              "axis": {"orient": "right", "title": null, "labels": false, "domain": false, "values": [1.5,1.7,1.9,2.1,2.3,2.5], "tickSize": 3.5, "offset": -3.5}},
            "y2": {"datum": 2.6}
          }
        },
        {
          "data": {"name": "c_avg"},
          "mark": {"type": "errorbar", "color": "#A3A3A3", "thickness": 0.8, "ticks": {"size": 4, "thickness": 0.8}},
          "encoding": {
            "x": {"field": "t", "type": "quantitative", "scale": {"domain": [0, 250]}, "axis": null},
            "y": {"field": "m", "type": "quantitative", "scale": {"domain": [1.4, 2.6]}, "axis": null},
            "yError": {"field": "e"}
          }
        },
        {
          "data": {"name": "c_avg"},
          "mark": {"type": "line", "strokeWidth": 1.5, "interpolate": "monotone"},
          "encoding": {
            "x": {"field": "t", "type": "quantitative", "scale": {"domain": [0, 250]},
              "axis": {"orient": "bottom", "title": "Time (fs)", "values": [0,50,100,150,200,250], "tickSize": 6}},
            "y": {"field": "m", "type": "quantitative", "scale": {"domain": [1.4, 2.6]},
              "axis": {"orient": "left", "title": "O-O Distance (Å)", "values": [1.4,1.6,1.8,2,2.2,2.4,2.6], "format": ".1f", "tickSize": 6}},
            "color": {"datum": "averaged O-O", "type": "nominal",
              "scale": {"domain": ["averaged O-O", "polaron O-O"], "range": ["#5A5A5A", "#E8675C"]},
              "legend": {"orient": "none", "legendX": 51, "legendY": 211, "title": null, "symbolType": "M-2.2,0H2.2",
                "symbolSize": 400, "symbolStrokeWidth": 2, "labelOffset": 18, "rowPadding": 4, "padding": 0}}
          }
        },
        {
          "data": {"name": "c_pol"},
          "mark": {"type": "line", "strokeWidth": 1.5, "interpolate": "monotone"},
          "encoding": {
            "x": {"field": "t", "type": "quantitative", "scale": {"domain": [0, 250]},
              "axis": {"orient": "top", "title": null, "labels": false, "domain": false, "values": [0,50,100,150,200,250], "tickSize": 6, "offset": -6}},
            "y": {"field": "v", "type": "quantitative", "scale": {"domain": [1.4, 2.6]},
              "axis": {"orient": "right", "title": null, "labels": false, "domain": false, "values": [1.4,1.6,1.8,2,2.2,2.4,2.6], "tickSize": 6, "offset": -6}},
            "color": {"datum": "polaron O-O", "type": "nominal"}
          }
        },
        {
          "data": {"name": "c_blob"},
          "mark": {"type": "circle", "size": 3800, "color": "#E9EADC", "opacity": 0.4, "stroke": "#DCDDCB", "strokeWidth": 1},
          "encoding": {
            "x": {"field": "t", "type": "quantitative", "scale": {"domain": [0, 250]},
              "axis": {"orient": "bottom", "title": null, "labels": false, "domain": false, "values": [25,75,125,175,225], "tickSize": 3.5}},
            "y": {"field": "v", "type": "quantitative", "scale": {"domain": [1.4, 2.6]},
              "axis": {"orient": "left", "title": null, "labels": false, "domain": false, "values": [1.5,1.7,1.9,2.1,2.3,2.5], "tickSize": 3.5}}
          }
        },
        {
          "data": {"name": "c_dash"},
          "mark": {"type": "line", "color": "#A08C86", "strokeWidth": 1.1, "strokeDash": [4, 3]},
          "encoding": {
            "x": {"field": "t", "type": "quantitative", "scale": {"domain": [0, 250]}, "axis": null},
            "y": {"field": "v", "type": "quantitative", "scale": {"domain": [1.4, 2.6]}, "axis": null},
            "detail": {"field": "b"}
          }
        },
        {
          "data": {"name": "c_tri"},
          "mark": {"type": "line", "color": "#3E86C6", "strokeWidth": 1.2},
          "encoding": {
            "x": {"field": "t", "type": "quantitative", "scale": {"domain": [0, 250]}, "axis": null},
            "y": {"field": "v", "type": "quantitative", "scale": {"domain": [1.4, 2.6]}, "axis": null},
            "detail": {"field": "b"}
          }
        },
        {
          "data": {"name": "c_oo"},
          "mark": {"type": "line", "color": "#D42A22", "strokeWidth": 8},
          "encoding": {
            "x": {"field": "t", "type": "quantitative", "scale": {"domain": [0, 250]}, "axis": null},
            "y": {"field": "v", "type": "quantitative", "scale": {"domain": [1.4, 2.6]}, "axis": null},
            "order": {"field": "v"}
          }
        },
        {
          "data": {"name": "c_atoms"},
          "transform": [{"filter": "datum.k === 'Na'"}],
          "mark": {"type": "point", "shape": "circle", "filled": true, "size": 330, "opacity": 1,
            "fill": {"gradient": "radial", "x1": 0.4, "y1": 0.35, "r1": 0, "x2": 0.5, "y2": 0.5, "r2": 0.55,
              "stops": [{"offset": 0, "color": "#CFEFFF"}, {"offset": 0.35, "color": "#2F92E6"}, {"offset": 1, "color": "#0A5AA8"}]}},
          "encoding": {
            "x": {"field": "t", "type": "quantitative", "scale": {"domain": [0, 250]}, "axis": null},
            "y": {"field": "v", "type": "quantitative", "scale": {"domain": [1.4, 2.6]}, "axis": null}
          }
        },
        {
          "data": {"name": "c_atoms"},
          "transform": [{"filter": "datum.k === 'O'"}],
          "mark": {"type": "point", "shape": "circle", "filled": true, "size": 390, "opacity": 1,
            "fill": {"gradient": "radial", "x1": 0.4, "y1": 0.35, "r1": 0, "x2": 0.5, "y2": 0.5, "r2": 0.55,
              "stops": [{"offset": 0, "color": "#FFC9C4"}, {"offset": 0.35, "color": "#E0241C"}, {"offset": 1, "color": "#A10E0A"}]}},
          "encoding": {
            "x": {"field": "t", "type": "quantitative", "scale": {"domain": [0, 250]}, "axis": null},
            "y": {"field": "v", "type": "quantitative", "scale": {"domain": [1.4, 2.6]}, "axis": null}
          }
        },
        {
          "data": {"name": "c_labels"},
          "mark": {"type": "text", "fontSize": 20, "color": "#1E9DD8", "font": "Liberation Sans"},
          "encoding": {
            "x": {"field": "t", "type": "quantitative", "scale": {"domain": [0, 250]}, "axis": null},
            "y": {"field": "v", "type": "quantitative", "scale": {"domain": [1.4, 2.6]}, "axis": null},
            "text": {"field": "lab"}
          }
        }
      ]
    },
    {
      "width": 392,
      "height": 315,
      "title": {"text": "(d)", "dx": -108, "dy": 3},
      "resolve": {"axis": {"x": "independent", "y": "independent"}},
      "layer": [
        {
          "mark": {"type": "rect", "color": "#FCD9A2"},
          "encoding": {
            "x": {"datum": 0, "type": "quantitative", "scale": {"domain": [0, 250]},
              "axis": {"orient": "top", "title": null, "labels": false, "domain": false, "values": [25,75,125,175,225], "tickSize": 3.5, "offset": -3.5}},
            "x2": {"datum": 20},
            "y": {"datum": 2.8, "type": "quantitative", "scale": {"domain": [2.8, 4.0]},
              "axis": {"orient": "right", "title": null, "labels": false, "domain": false, "values": [2.9,3.1,3.3,3.5,3.7,3.9], "tickSize": 3.5, "offset": -3.5}},
            "y2": {"datum": 4.0}
          }
        },
        {
          "data": {"name": "d_avg"},
          "mark": {"type": "errorbar", "color": "#A3A3A3", "thickness": 0.7, "ticks": {"size": 2, "thickness": 0.7}},
          "encoding": {
            "x": {"field": "t", "type": "quantitative", "scale": {"domain": [0, 250]}, "axis": null},
            "y": {"field": "m", "type": "quantitative", "scale": {"domain": [2.8, 4.0]}, "axis": null},
            "yError": {"field": "e"}
          }
        },
        {
          "data": {"name": "d_avg"},
          "mark": {"type": "point", "opacity": 0},
          "encoding": {
            "x": {"field": "t", "type": "quantitative", "scale": {"domain": [0, 250]},
              "axis": {"orient": "bottom", "title": null, "labels": false, "domain": false, "values": [25,75,125,175,225], "tickSize": 3.5}},
            "y": {"field": "m", "type": "quantitative", "scale": {"domain": [2.8, 4.0]},
              "axis": {"orient": "left", "title": null, "labels": false, "domain": false, "values": [2.9,3.1,3.3,3.5,3.7,3.9], "tickSize": 3.5}}
          }
        },
        {
          "data": {"name": "d_avg"},
          "mark": {"type": "line", "strokeWidth": 1.6},
          "encoding": {
            "x": {"field": "t", "type": "quantitative", "scale": {"domain": [0, 250]},
              "axis": {"orient": "bottom", "title": "Time (fs)", "values": [0,50,100,150,200,250], "tickSize": 6}},
            "y": {"field": "m", "type": "quantitative", "scale": {"domain": [2.8, 4.0]},
              "axis": {"orient": "left", "title": "Na-Na Distance (Å)", "values": [2.8,3,3.2,3.4,3.6,3.8,4], "format": ".1f", "tickSize": 6}},
            "color": {"datum": "averaged Na-Na", "type": "nominal",
              "scale": {"domain": ["averaged Na-Na", "Na1-Na2", "Na1-Na3", "Na2-Na3"], "range": ["#5A5A5A", "#2B4C8C", "#E8675C", "#6AAB50"]},
              "legend": {"orient": "none", "legendX": 204, "legendY": 215, "title": null, "symbolType": "M-2.2,0H2.2",
                "symbolSize": 400, "symbolStrokeWidth": 2, "labelOffset": 18, "rowPadding": 3.3, "padding": 0}}
          }
        },
        {
          "data": {"name": "d_lines"},
          "mark": {"type": "line", "strokeWidth": 1.7, "interpolate": "monotone"},
          "encoding": {
            "x": {"field": "t", "type": "quantitative", "scale": {"domain": [0, 250]},
              "axis": {"orient": "top", "title": null, "labels": false, "domain": false, "values": [0,50,100,150,200,250], "tickSize": 6, "offset": -6}},
            "y": {"field": "v", "type": "quantitative", "scale": {"domain": [2.8, 4.0]},
              "axis": {"orient": "right", "title": null, "labels": false, "domain": false, "values": [2.8,3,3.2,3.4,3.6,3.8,4], "tickSize": 6, "offset": -6}},
            "color": {"field": "s", "type": "nominal", "title": null}
          }
        }
      ]
    }
  ],
  "config": {
    "font": "Liberation Sans",
    "view": {"stroke": "#000000", "strokeWidth": 1.3},
    "axis": {
      "grid": false, "ticks": true, "domainColor": "#000000", "domainWidth": 1.3, "tickColor": "#000000", "tickWidth": 1.4,
      "labelFont": "Liberation Sans", "labelFontSize": 19, "labelColor": "#000000", "labelPadding": 2,
      "labelFlush": false, "labelOverlap": false, "labelBound": false,
      "titleFont": "Liberation Sans", "titleFontSize": 26, "titleFontWeight": "normal", "titleColor": "#000000",
      "zindex": 1
    },
    "axisX": {"titlePadding": 8},
    "axisY": {"titlePadding": 5},
    "legend": {"labelFont": "Liberation Sans", "labelFontSize": 19, "labelColor": "#000000"},
    "title": {"font": "Liberation Sans", "fontSize": 34, "fontWeight": "normal", "anchor": "start", "frame": "group",
      "baseline": "alphabetic", "offset": 0, "color": "#000000"}
  }
}
